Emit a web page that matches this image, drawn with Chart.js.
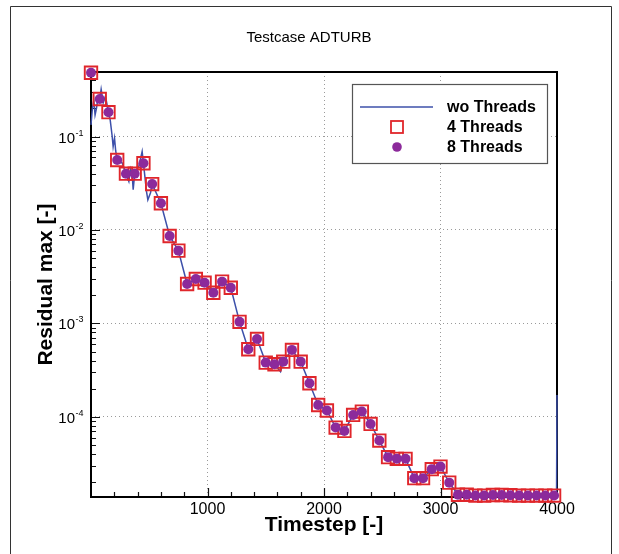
<!DOCTYPE html>
<html>
<head>
<meta charset="utf-8">
<script src="https://cdn.jsdelivr.net/npm/chart.js@4.4.1/dist/chart.umd.min.js"></script>
<style>
  html, body { margin: 0; padding: 0; background: #fff; }
  #wrap { width: 619px; height: 554px; }
</style>
</head>
<body>
<div id="wrap"><canvas id="chart" width="619" height="554"></canvas></div>
<script>
// timesteps where the 4 / 8 thread runs were sampled
const markerSteps = [
  0, 75, 150, 225, 300, 375, 450, 525, 600, 675, 750, 825, 900, 975,
  1050, 1125, 1200, 1275, 1350, 1425, 1500, 1575, 1650, 1725, 1800, 1875,
  1950, 2025, 2100, 2175, 2250, 2325, 2400, 2475, 2550, 2625, 2700, 2775,
  2850, 2925, 3000, 3075, 3150, 3225, 3300, 3375, 3450, 3525, 3600, 3675,
  3750, 3825, 3900, 3975
];
const residual4 = [
  0.481, 0.252, 0.182, 0.0561, 0.0400, 0.0400, 0.0517, 0.0310, 0.0193, 0.00863,
  0.00601, 0.00264, 0.00299, 0.00273, 0.00213, 0.00280, 0.00241, 0.00104,
  0.000530, 0.000683, 0.000381, 0.000366, 0.000390, 0.000521, 0.000390, 0.000229,
  0.000134, 0.000117, 7.69e-5, 7.08e-5, 1.05e-4, 1.14e-4, 8.41e-5, 5.58e-5,
  3.71e-5, 3.56e-5, 3.56e-5, 2.21e-5, 2.21e-5, 2.76e-5, 2.94e-5, 1.98e-5,
  1.47e-5, 1.47e-5, 1.44e-5, 1.44e-5, 1.46e-5, 1.46e-5, 1.45e-5, 1.44e-5,
  1.44e-5, 1.44e-5, 1.44e-5, 1.44e-5
];
const residual8 = [
  0.481, 0.252, 0.182, 0.0561, 0.0400, 0.0400, 0.0517, 0.0310, 0.0193, 0.00863,
  0.00601, 0.00264, 0.00299, 0.00273, 0.00213, 0.00280, 0.00241, 0.00104,
  0.000530, 0.000683, 0.000381, 0.000366, 0.000390, 0.000521, 0.000390, 0.000229,
  0.000134, 0.000117, 7.69e-5, 7.08e-5, 1.05e-4, 1.14e-4, 8.41e-5, 5.58e-5,
  3.71e-5, 3.56e-5, 3.56e-5, 2.21e-5, 2.21e-5, 2.76e-5, 2.94e-5, 1.98e-5,
  1.47e-5, 1.47e-5, 1.44e-5, 1.44e-5, 1.46e-5, 1.46e-5, 1.45e-5, 1.44e-5,
  1.44e-5, 1.44e-5, 1.44e-5, 1.44e-5
];

// run without threads (continuous history)
const lineSteps = [
  0, 12, 24, 35, 47, 60, 75, 87, 105, 124, 150, 165, 182, 190, 202, 212, 225,
  268, 300, 325, 340, 353, 362, 375, 410, 439, 450, 476, 488, 511, 525, 600,
  675, 750, 825, 900, 975, 1050, 1125, 1200, 1275, 1350, 1425, 1500, 1575,
  1627, 1650, 1725, 1800, 1875, 1950, 2025, 2100, 2175, 2250, 2325, 2400,
  2475, 2550, 2625, 2700, 2775, 2850, 2925, 3000, 3075, 3150, 3225, 3300,
  3375, 3450, 3525, 3600, 3675, 3750, 3825, 3900, 3975, 3996, 4000
];
const lineValues = [
  0.133, 0.20, 0.245, 0.17, 0.20, 0.26, 0.252, 0.32, 0.23, 0.27, 0.182, 0.15,
  0.10, 0.078, 0.096, 0.07, 0.056,
  0.052, 0.040, 0.033, 0.045, 0.040, 0.027, 0.040, 0.048, 0.069, 0.052, 0.026,
  0.021, 0.025, 0.031, 0.0193,
  0.00863, 0.00601, 0.00264, 0.00299, 0.00273, 0.00213, 0.00280, 0.00241,
  0.00104, 0.000530, 0.000683, 0.000381, 0.000366,
  0.000305, 0.000390, 0.000521, 0.000390, 0.000229, 0.000134, 0.000117, 7.69e-5,
  7.08e-5, 1.05e-4, 1.14e-4, 8.41e-5,
  5.58e-5, 3.71e-5, 3.56e-5, 3.56e-5, 2.21e-5, 2.21e-5, 2.76e-5, 2.94e-5,
  1.98e-5, 1.47e-5, 1.47e-5, 1.44e-5,
  1.44e-5, 1.46e-5, 1.46e-5, 1.45e-5, 1.44e-5, 1.44e-5, 1.44e-5, 1.44e-5,
  1.44e-5, 1.44e-5, 1.72e-4
];

const xTickLabels = [1000, 2000, 3000, 4000];
const seriesNames = ["wo Threads", "4 Threads", "8 Threads"];

const FONT = "'Liberation Sans', Arial, Helvetica, sans-serif";
const BLUE = "#3d50aa";
const RED = "#e0262b";
const PURPLE = "#8c2a9b";

const toPts = (xs, ys) => xs.map((x, i) => ({ x, y: ys[i] }));
const isDecade = v => Math.abs(Math.log10(v) - Math.round(Math.log10(v))) < 1e-6;
const isNice = v => {
  const m = v / Math.pow(10, Math.floor(Math.log10(v) + 1e-9));
  return Math.abs(m - Math.round(m)) < 1e-6;
};

// frame, inward ticks (under the markers)
const framePlugin = {
  id: "frame",
  beforeDatasetsDraw(chart) {
    const { ctx, chartArea: a, scales: { x, y } } = chart;
    ctx.save();
    ctx.strokeStyle = "#111";
    ctx.lineWidth = 1.2;
    ctx.beginPath();
    y.ticks.forEach(t => {
      if (!isNice(t.value)) return;
      const py = Math.round(y.getPixelForValue(t.value)) + 0.5;
      const len = isDecade(t.value) ? 9 : 5;
      ctx.moveTo(a.left, py);
      ctx.lineTo(a.left + len, py);
    });
    x.ticks.forEach(t => {
      if (t.value <= 0 || t.value >= 4000) return;
      const px = Math.round(x.getPixelForValue(t.value)) + 0.5;
      const len = t.value % 1000 === 0 ? 9 : 5;
      ctx.moveTo(px, a.bottom);
      ctx.lineTo(px, a.bottom - len);
    });
    ctx.stroke();

    ctx.strokeStyle = "#000";
    ctx.lineWidth = 2;
    ctx.strokeRect(a.left, a.top, a.right - a.left, a.bottom - a.top);
    ctx.restore();
  },
  afterDraw(chart) {
    const { ctx, chartArea: a, scales: { y } } = chart;
    ctx.save();

    // outer page frame
    ctx.strokeStyle = "#333";
    ctx.lineWidth = 1;
    ctx.beginPath();
    ctx.moveTo(10.5, 554);
    ctx.lineTo(10.5, 6.5);
    ctx.lineTo(611.5, 6.5);
    ctx.lineTo(611.5, 554);
    ctx.stroke();

    // title
    ctx.fillStyle = "#000";
    ctx.font = "15px " + FONT;
    ctx.textAlign = "center";
    ctx.textBaseline = "middle";
    ctx.fillText("Testcase ADTURB", 309, 38);

    // y tick labels 10^n
    y.ticks.forEach(t => {
      if (!isDecade(t.value)) return;
      const py = y.getPixelForValue(t.value);
      const e = Math.round(Math.log10(t.value));
      ctx.textAlign = "right";
      ctx.textBaseline = "alphabetic";
      ctx.font = "15px " + FONT;
      ctx.fillText("10", 75, py + 6);
      ctx.textAlign = "left";
      ctx.font = "9px " + FONT;
      ctx.fillText(String(e), 75.5, py - 1);
    });

    // axis titles
    ctx.font = "bold 21px " + FONT;
    ctx.textAlign = "center";
    ctx.textBaseline = "middle";
    ctx.fillText("Timestep [-]", (a.left + a.right) / 2, 525);
    ctx.save();
    ctx.translate(46, (a.top + a.bottom) / 2);
    ctx.rotate(-Math.PI / 2);
    ctx.fillText("Residual max [-]", 0, 0);
    ctx.restore();

    // legend
    const lx = 352, ly = 84, lw = 195, lh = 79;
    ctx.fillStyle = "#fff";
    ctx.fillRect(lx, ly, lw, lh);
    ctx.strokeStyle = "#555";
    ctx.lineWidth = 1.2;
    ctx.strokeRect(lx + 0.5, ly + 0.5, lw, lh);

    const rows = [107, 127, 147];
    ctx.strokeStyle = BLUE;
    ctx.lineWidth = 1.5;
    ctx.beginPath();
    ctx.moveTo(360, rows[0]);
    ctx.lineTo(433, rows[0]);
    ctx.stroke();
    ctx.strokeStyle = RED;
    ctx.lineWidth = 1.8;
    ctx.strokeRect(391, rows[1] - 6, 12, 12);
    ctx.fillStyle = PURPLE;
    ctx.beginPath();
    ctx.arc(397, rows[2], 4.8, 0, Math.PI * 2);
    ctx.fill();

    ctx.fillStyle = "#000";
    ctx.font = "bold 16px " + FONT;
    ctx.textAlign = "left";
    ctx.textBaseline = "middle";
    seriesNames.forEach((n, i) => ctx.fillText(n, 447, rows[i] + 1));
    ctx.restore();
  }
};

new Chart(document.getElementById("chart"), {
  type: "scatter",
  data: {
    datasets: [
      {
        label: seriesNames[0],
        data: toPts(lineSteps, lineValues),
        showLine: true,
        borderColor: BLUE,
        borderWidth: 1.5,
        pointRadius: 0,
        tension: 0,
        clip: false,
        order: 3
      },
      {
        label: seriesNames[1],
        data: toPts(markerSteps, residual4),
        pointStyle: "rect",
        pointRadius: 8.8,
        borderColor: RED,
        borderWidth: 1.9,
        backgroundColor: "rgba(0,0,0,0)",
        clip: false,
        order: 2
      },
      {
        label: seriesNames[2],
        data: toPts(markerSteps, residual8),
        pointStyle: "circle",
        pointRadius: 5,
        borderWidth: 0,
        backgroundColor: PURPLE,
        clip: false,
        order: 1
      }
    ]
  },
  options: {
    responsive: false,
    animation: false,
    events: [],
    layout: { padding: { top: 72, right: 62, left: 0, bottom: 0 } },
    plugins: { legend: { display: false }, title: { display: false }, tooltip: { enabled: false } },
    scales: {
      x: {
        type: "linear",
        min: 0,
        max: 4000,
        afterFit: s => { s.height = 57; },
        ticks: {
          stepSize: 200,
          autoSkip: false,
          maxRotation: 0,
          padding: 3,
          color: "#000",
          font: { family: FONT, size: 16 },
          callback: v => (xTickLabels.includes(v) ? String(v) : "")
        },
        grid: {
          drawTicks: false,
          color: c => (c.tick && c.tick.value % 1000 === 0 && c.tick.value > 0 && c.tick.value < 4000) ? "#9a9a9a" : "rgba(0,0,0,0)",
          lineWidth: 1
        },
        border: { display: false, dash: [1, 3] }
      },
      y: {
        type: "logarithmic",
        min: 1.39e-5,
        max: 0.49,
        afterFit: s => { s.width = 91; },
        ticks: { callback: () => "", autoSkip: false },
        grid: {
          drawTicks: false,
          color: c => (c.tick && isDecade(c.tick.value)) ? "#9a9a9a" : "rgba(0,0,0,0)",
          lineWidth: 1
        },
        border: { display: false, dash: [1, 3] }
      }
    }
  },
  plugins: [framePlugin]
});
</script>
</body>
</html>
